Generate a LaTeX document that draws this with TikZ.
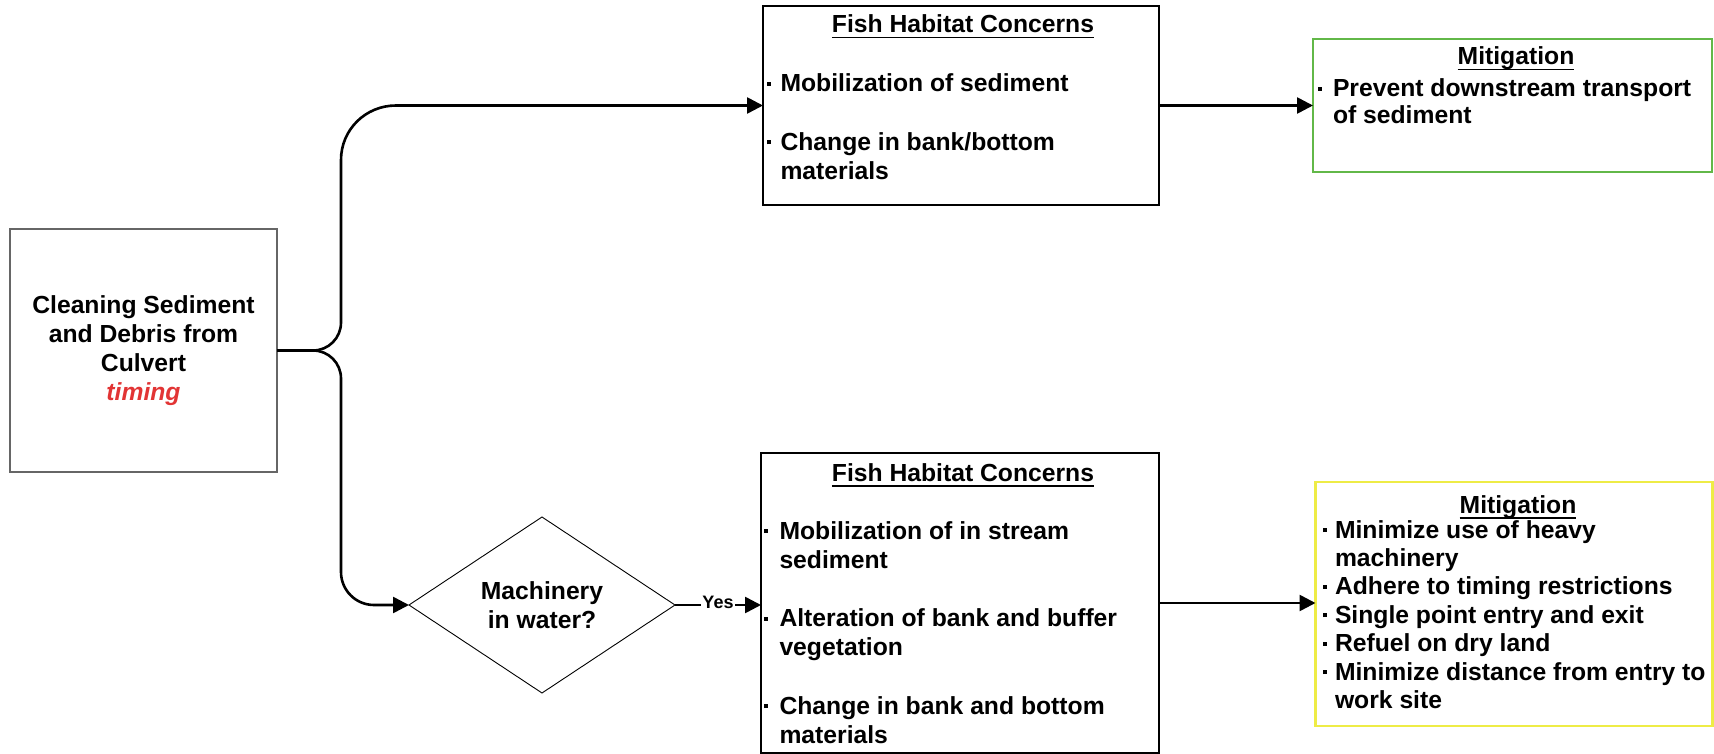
\documentclass[tikz,border=0pt]{standalone}
\usepackage{fontspec}
\setmainfont{Liberation Sans}
\usetikzlibrary{shapes.geometric,arrows.meta}

\definecolor{mitgreen}{RGB}{98,184,72}
\definecolor{mityellow}{RGB}{238,236,70}
\definecolor{timered}{RGB}{226,52,52}

% underlined heading with the rule set a little below the baseline
\newcommand\headline[1]{\setbox0\hbox{#1}\rlap{\rule[-5.5pt]{\wd0}{1.4pt}}\box0}
% small square bullet
\newcommand\sqbul{\rule[6pt]{4pt}{4pt}}

\begin{document}
\begin{tikzpicture}[x=1pt,y=-1pt,
  font=\fontsize{24.7}{29.2}\selectfont\bfseries,
  box/.style={draw, inner sep=0pt, outer sep=0pt, line width=1.5pt},
  txt/.style={inner sep=0pt, outer sep=0pt},
  conn/.style={line width=2.6pt, -{Triangle[length=16pt,width=16pt]}},
  yeslbl/.style={fill=white, inner sep=1.5pt, yshift=2.5pt,
    font=\fontsize{18}{20}\selectfont\bfseries}]

\useasboundingbox (0,0) rectangle (1714,754);

% ---- boxes ----
\node[box, draw=black!60, line width=1.2pt, minimum width=267, minimum height=243]
  (src) at (143.5,350.5) {};
\node[box, minimum width=396, minimum height=199] (top) at (961,105.5) {};
\node[box, draw=mitgreen, line width=2.7pt, minimum width=399, minimum height=133]
  (green) at (1512.5,105.5) {};
\node[box, minimum width=398, minimum height=300] (bot) at (960,603) {};
\node[box, draw=mityellow, line width=2.5pt, minimum width=397, minimum height=244]
  (yellow) at (1514,604) {};
\node[diamond, draw, line width=0.9pt, inner sep=0pt, outer sep=0pt, aspect=1.5,
  minimum width=266, minimum height=176] (dia) at (542,605) {};

% ---- texts ----
\node[txt, anchor=base] (srctxt) at (143.5,313)
  {\begin{tabular}[t]{@{}c@{}}Cleaning Sediment\\ and Debris from\\ Culvert\\
   \color{timered}\itshape timing\end{tabular}};

\node[txt, anchor=base] (toptitle) at (963,33) {\headline{Fish Habitat Concerns}};
\node[txt, anchor=base west] (topitems) at (767,92)
  {\begin{tabular}[t]{@{}l@{\hspace{9.5pt}}l@{}}
   \sqbul & Mobilization of sediment\\
          & \\
   \sqbul & Change in bank/bottom\\
          & materials
   \end{tabular}};

\node[txt, anchor=base] (greentitle) at (1516,65) {\headline{Mitigation}};
\node[txt, anchor=base west, font=\fontsize{24.7}{26.5}\selectfont\bfseries]
  (greenitems) at (1318,97)
  {\begin{tabular}[t]{@{}l@{\hspace{11pt}}l@{}}
   \sqbul & Prevent downstream transport\\
          & of sediment
   \end{tabular}};

\node[txt, anchor=base] (diatxt) at (542,599)
  {\begin{tabular}[t]{@{}c@{}}Machinery\\ in water?\end{tabular}};

\node[txt, anchor=base] (bottitle) at (963,481) {\headline{Fish Habitat Concerns}};
\node[txt, anchor=base west] (botitems) at (764,539)
  {\begin{tabular}[t]{@{}l@{\hspace{11.5pt}}l@{}}
   \sqbul & Mobilization of in stream\\
          & sediment\\
          & \\
   \sqbul & Alteration of bank and buffer\\
          & vegetation\\
          & \\
   \sqbul & Change in bank and bottom\\
          & materials
   \end{tabular}};

\node[txt, anchor=base] (yellowtitle) at (1518,513) {\headline{Mitigation}};
\node[txt, anchor=base west, font=\fontsize{24.7}{28.4}\selectfont\bfseries]
  (yellowitems) at (1322.5,538)
  {\begin{tabular}[t]{@{}l@{\hspace{8.5pt}}l@{}}
   \sqbul & Minimize use of heavy\\
          & machinery\\
   \sqbul & Adhere to timing restrictions\\
   \sqbul & Single point entry and exit\\
   \sqbul & Refuel on dry land\\
   \sqbul & Minimize distance from entry to\\
          & work site
   \end{tabular}};

% ---- connectors ----
\draw[conn] (src.east) -- (313,350.5)
  .. controls (328.5,350.5) and (341,338) .. (341,322.5)
  -- (341,160)
  .. controls (341,129.6) and (365.6,105.5) .. (396,105.5)
  -- (top.west);
\draw[conn] (src.east) -- (313,350.5)
  .. controls (328.5,350.5) and (341,363) .. (341,378.5)
  -- (341,572)
  .. controls (341,590.2) and (355.8,605) .. (374,605)
  -- (dia.west);
\draw[conn] (dia.east) -- node[yeslbl] (yes) {Yes} (dia.east -| bot.west);
\draw[conn] (top.east) -- (green.west);
\draw[conn] (bot.east) -- (bot.east -| yellow.west);

\end{tikzpicture}
\end{document}
